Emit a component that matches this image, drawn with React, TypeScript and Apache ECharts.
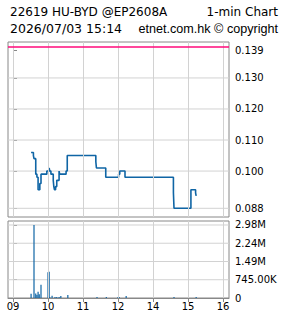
import React, { useEffect, useRef } from 'react';
import * as echarts from 'echarts';

const titleLeft = '22619 HU-BYD @EP2608A';
const titleRight = '1-min Chart';
const dateText = '2026/07/03 15:14';
const copyrightText = 'etnet.com.hk © copyright';

const hourLabels = ['09', '10', '11', '12', '14', '15', '16'];
const priceTicks = [0.088, 0.1, 0.11, 0.12, 0.13, 0.139];
const volumeTicks = [0, 745000, 1490000, 2235000, 2980000];
const prevClose = 0.139;

const priceTimes = [
  '09:31', '09:35', '09:36', '09:39', '09:41', '09:43', '09:46', '09:48', '09:58', '10:02',
  '10:03', '10:05', '10:09', '10:10', '10:11', '10:13', '10:15', '10:19', '10:20', '10:31',
  '10:33', '11:22', '11:23', '11:39', '13:01', '13:03', '13:12', '14:35', '14:36', '15:05',
  '15:13', '15:14',
];
const priceValues = [
  0.106, 0.105, 0.104, 0.099, 0.098, 0.094, 0.096, 0.099, 0.1, 0.101,
  0.1, 0.099, 0.097, 0.095, 0.094, 0.095, 0.097, 0.1, 0.099, 0.1,
  0.105, 0.103, 0.101, 0.098, 0.099, 0.1, 0.098, 0.093, 0.088, 0.094,
  0.093, 0.092,
];

const volumeTimes = [
  '09:31', '09:36', '09:39', '09:41', '09:43', '09:45', '09:48', '10:00', '10:02', '10:03',
  '10:07', '10:12', '10:15', '10:19', '10:22', '10:34', '11:24', '11:40', '13:00', '13:02',
  '13:14', '14:36', '15:14',
];
const volumeValues = [
  177000, 2980000, 180000, 122000, 260000, 150000, 545000, 1050000, 1070000, 40000,
  95000, 40000, 40000, 40000, 80000, 120000, 40000, 40000, 40000, 40000,
  80000, 40000, 40000,
];

// trading-time -> hour position on the axis (lunch break 12:00-13:00 removed)
function timePos(t: string): number {
  const [h, m] = t.split(':').map(Number);
  const hh = h >= 13 ? h - 1 : h;
  return hh - 9 + m / 60;
}

const hourPos = hourLabels.map((_, i) => i);
const FONT = 'DejaVu Sans';
const BLUE = '#0f65a5';
const GRID_COLOR = '#d2d2d2';
const gridLineStyle = () => ({ color: GRID_COLOR, width: 1, type: 'solid' });

const X_MIN = -5 / 35;
const X_MAX = 6 + 6 / 35;

function fmtVol(v: number): string {
  if (v === 0) return '0';
  if (v >= 1e6) return (Math.round(v / 1e4) / 100).toFixed(2) + 'M';
  return (Math.round(v / 10) / 100).toFixed(2) + 'K';
}

// horizontal grid line drawn as a plain line series across the plot width
function hLine(v: number, axisIndex: number) {
  return {
    type: 'line', xAxisIndex: axisIndex, yAxisIndex: axisIndex, z: 1, silent: true,
    symbol: 'none', lineStyle: gridLineStyle(), emphasis: { disabled: true },
    data: [[X_MIN, v], [X_MAX, v]],
  };
}

export default function App() {
  const ref = useRef<HTMLDivElement>(null);
  useEffect(() => {
    if (!ref.current) return;
    const chart = echarts.init(ref.current, undefined, { renderer: 'svg' });
    const gridStyle = { show: true, borderColor: '#888', borderWidth: 1 };
    const txt = (s: string, font = '12px "DejaVu Sans"') => ({ text: s, font, fill: '#000' });
    const label = (fmt: (v: number) => string, ticks: number[], margin: number) => ({
      customValues: ticks, margin, color: '#000', fontSize: 10, fontFamily: FONT, formatter: fmt,
    });
    const vLines = () => hourPos.map((v) => ({ xAxis: v, lineStyle: gridLineStyle() }));
    chart.setOption({
      animation: false,
      backgroundColor: '#fff',
      graphic: [
        { type: 'text', left: 10, top: 6, style: txt(titleLeft) },
        { type: 'text', right: 7, top: 6, style: txt(titleRight) },
        { type: 'text', left: 10, top: 22, style: txt(dateText, '12.5px "DejaVu Sans"') },
        { type: 'text', right: 7, top: 22, style: txt(copyrightText, '12.6px "Liberation Sans"') },
      ],
      grid: [
        { left: 8, top: 42, width: 221, height: 175, ...gridStyle },
        { left: 8, top: 221, width: 221, height: 77, ...gridStyle },
      ],
      xAxis: [
        {
          type: 'value', gridIndex: 0, min: X_MIN, max: X_MAX,
          axisLine: { show: false },
          axisTick: { show: false },
          axisLabel: { show: false },
          splitLine: { show: false },
        },
        {
          type: 'value', gridIndex: 1, min: X_MIN, max: X_MAX,
          axisLine: { show: true, onZero: false, lineStyle: { color: '#888' } },
          axisTick: { show: true, length: 4, customValues: hourPos, lineStyle: { color: '#888' } },
          axisLabel: label((v: number) => hourLabels[Math.round(v)], hourPos, 3),
          splitLine: { show: false },
        },
      ],
      yAxis: [
        {
          type: 'value', gridIndex: 0, position: 'right', min: 0.0852, max: 0.14158,
          axisLine: { show: false },
          axisTick: { show: true, length: 4, customValues: priceTicks, lineStyle: { color: '#888' } },
          axisLabel: label((v: number) => v.toFixed(3), priceTicks, 6),
          splitLine: { show: false },
        },
        {
          type: 'value', gridIndex: 1, position: 'right', min: 0, max: 3143000,
          axisLine: { show: false },
          axisTick: { show: true, length: 4, customValues: volumeTicks, lineStyle: { color: '#888' } },
          axisLabel: label((v: number) => fmtVol(v), volumeTicks, 6),
          splitLine: { show: false },
        },
      ],
      series: [
        ...priceTicks.filter((v) => v !== prevClose).map((v) => hLine(v, 0)),
        ...volumeTicks.filter((v) => v !== 0).map((v) => hLine(v, 1)),
        {
          type: 'line', xAxisIndex: 0, yAxisIndex: 0, step: 'end', symbol: 'none', z: 3,
          lineStyle: { color: BLUE, width: 1.6 },
          data: priceTimes.map((t, i) => [timePos(t), priceValues[i]]),
          markLine: {
            silent: true, symbol: ['none', 'none'], label: { show: false },
            data: [
              ...vLines(),
              { yAxis: prevClose, lineStyle: { color: '#ff0a7a', width: 1.5, type: 'solid' } },
            ],
          },
        },
        {
          type: 'bar', xAxisIndex: 1, yAxisIndex: 1, barWidth: 1.2, z: 3,
          itemStyle: { color: BLUE },
          data: volumeTimes.map((t, i) => [timePos(t), volumeValues[i]]),
          markLine: {
            silent: true, symbol: ['none', 'none'], label: { show: false },
            data: vLines(),
          },
        },
      ],
    });
    return () => chart.dispose();
  }, []);
  return (
    <div
      ref={ref}
      style={{ position: 'absolute', left: 0, top: 0, width: 285, height: 318, background: '#fff' }}
    />
  );
}
